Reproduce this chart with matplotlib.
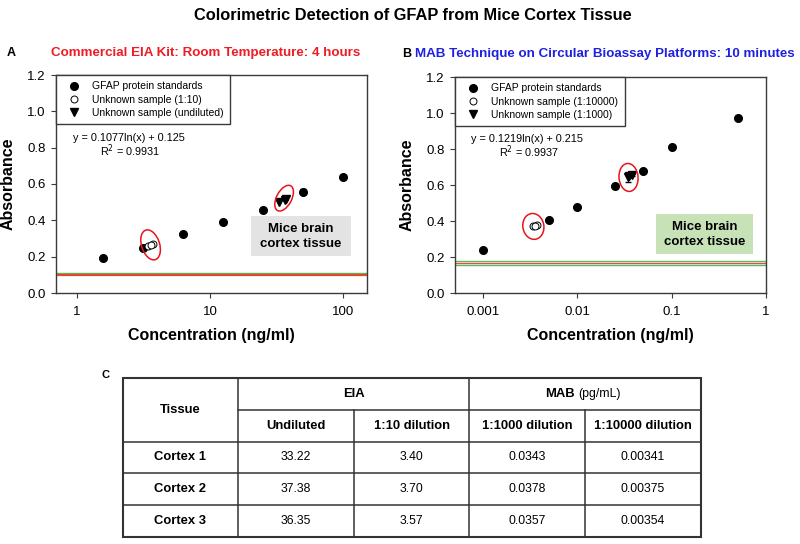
import matplotlib
matplotlib.use("Agg")
import matplotlib.pyplot as plt
import matplotlib.transforms as mtransforms
from matplotlib.patches import Ellipse, Rectangle
from matplotlib.lines import Line2D
from matplotlib.ticker import FixedLocator, FixedFormatter, NullLocator

plt.rcParams['font.family'] = ['Liberation Sans', 'DejaVu Sans']

# ---------------- data ----------------
# Panel A: commercial EIA kit
std_conc_a = [1.5625, 3.125, 6.25, 12.5, 25, 50, 100]
std_abs_a = [0.195, 0.250, 0.323, 0.389, 0.458, 0.557, 0.640]
std_err_a = [0.004, 0.006, 0.005, 0.006, 0.006, 0.013, 0.006]
unk10_abs_a = [0.260, 0.268, 0.265]          # 1:10 samples
undil_abs_a = [0.503, 0.516, 0.512]          # undiluted samples
blank_a_green = 0.108
blank_a_red = 0.101

# Panel B: MAB technique
std_conc_b = [0.001, 0.005, 0.01, 0.025, 0.05, 0.1, 0.5]
std_abs_b = [0.240, 0.406, 0.479, 0.597, 0.680, 0.813, 0.975]
unk10000_abs_b = [0.371, 0.376, 0.373]       # 1:10000 samples
unk1000_abs_b = [0.642, 0.656, 0.652]        # 1:1000 samples
unk1000_err_b = [0.024, 0.004, 0.004]
blank_b_lines = [0.178, 0.167, 0.156]
blank_b_colors = ['#5cb85c', '#e0504a', '#5cb85c']

# Table C
tissues = ['Cortex 1', 'Cortex 2', 'Cortex 3']
eia_undiluted = [33.22, 37.38, 36.35]
eia_dil10 = [3.40, 3.70, 3.57]
mab_dil1000 = [0.0343, 0.0378, 0.0357]
mab_dil10000 = [0.00341, 0.00375, 0.00354]

eq_a = ['y = 0.1077ln(x) + 0.125', 'R$^2$ = 0.9931']
eq_b = ['y = 0.1219ln(x) + 0.215', 'R$^2$ = 0.9937']
legend_a = ['GFAP protein standards', 'Unknown sample (1:10)', 'Unknown sample (undiluted)']
legend_b = ['GFAP protein standards', 'Unknown sample (1:10000)', 'Unknown sample (1:1000)']
xticks_a = [1, 10, 100]
xticklabels_a = ['1', '10', '100']
xticks_b = [0.001, 0.01, 0.1, 1]
xticklabels_b = ['0.001', '0.01', '0.1', '1']
yticks = [0.0, 0.2, 0.4, 0.6, 0.8, 1.0, 1.2]

# ---------------- figure ----------------
W, H = 800, 544
fig = plt.figure(figsize=(W / 100, H / 100), dpi=100)


def px_axes(x0, y0, x1, y1):
    return fig.add_axes([x0 / W, 1 - y1 / H, (x1 - x0) / W, (y1 - y0) / H])


frame_col = '#3a3a3a'
axA = px_axes(56, 75, 367, 293)
axB = px_axes(455, 77, 766, 293)

for ax in (axA, axB):
    ax.set_xscale('log')
    ax.set_ylim(0, 1.2)
    ax.yaxis.set_major_locator(FixedLocator(yticks))
    ax.set_yticklabels(['%.1f' % v for v in yticks])
    ax.tick_params(axis='both', which='major', direction='out', length=3.5,
                   width=0.8, color=frame_col, labelsize=9.5, pad=4)
    ax.tick_params(axis='x', pad=6)
    for s in ax.spines.values():
        s.set_color(frame_col)
        s.set_linewidth(1.0)
    ax.set_ylabel('Absorbance', fontsize=11.5, fontweight='bold', labelpad=8)
    ax.set_xlabel('Concentration (ng/ml)', fontsize=11.5, fontweight='bold', labelpad=7)

axA.set_xlim(0.695, 151)
axA.xaxis.set_major_locator(FixedLocator(xticks_a))
axA.xaxis.set_major_formatter(FixedFormatter(xticklabels_a))
axB.set_xlim(0.000508, 1.0)
axB.xaxis.set_major_locator(FixedLocator(xticks_b))
axB.xaxis.set_major_formatter(FixedFormatter(xticklabels_b))
axB.xaxis.set_minor_locator(NullLocator())
axA.xaxis.set_minor_locator(NullLocator())

ms = 5.5
# Panel A marks
axA.axhline(blank_a_green, color='#5cb85c', lw=1.0, zorder=1)
axA.axhline(blank_a_red, color='#e2492c', lw=1.6, zorder=1)
axA.errorbar(std_conc_a, std_abs_a, yerr=std_err_a, fmt='o', color='black',
             ms=ms, capsize=2, elinewidth=0.7, zorder=3)
axA.errorbar(eia_dil10, unk10_abs_a, yerr=[0.004] * 3, fmt='o', mfc='white', mec='black',
             mew=0.7, ecolor='black', ms=ms - 0.5, capsize=1.5, elinewidth=0.6, zorder=4)
axA.errorbar(eia_undiluted, undil_abs_a, yerr=[0.004] * 3, fmt='v', color='black',
             ms=ms + 0.5, capsize=1.5, elinewidth=0.6, zorder=4)

# Panel B marks
for yv, c in zip(blank_b_lines, blank_b_colors):
    axB.axhline(yv, color=c, lw=1.0, zorder=1)
axB.errorbar(std_conc_b, std_abs_b, yerr=[0.004] * len(std_conc_b), fmt='o', color='black',
             ms=ms, capsize=2, elinewidth=0.7, zorder=3)
axB.errorbar(mab_dil10000, unk10000_abs_b, yerr=[0.004] * 3, fmt='o', mfc='white', mec='black',
             mew=0.7, ecolor='black', ms=ms - 0.5, capsize=1.5, elinewidth=0.6, zorder=4)
axB.errorbar(mab_dil1000, unk1000_abs_b, yerr=unk1000_err_b, fmt='v', color='black',
             ms=ms + 0.5, capsize=2.5, elinewidth=0.7, zorder=4)


def handles():
    return [Line2D([], [], ls='none', marker='o', color='black', ms=ms),
            Line2D([], [], ls='none', marker='o', mfc='white', mec='black', mew=0.7, ms=ms - 0.5),
            Line2D([], [], ls='none', marker='v', color='black', ms=ms + 0.5)]


for ax, labels in ((axA, legend_a), (axB, legend_b)):
    leg = ax.legend(handles(), labels, loc='upper left', bbox_to_anchor=(0, 1), borderaxespad=0,
                    fancybox=False, edgecolor=frame_col, framealpha=1, fontsize=7.5,
                    handlelength=2.2, handletextpad=0.7, labelspacing=0.32,
                    borderpad=0.6, numpoints=1)
    leg.get_frame().set_linewidth(1.0)


def fig_text(x, y, s, **kw):
    return fig.text(x / W, 1 - y / H, s, **kw)


fig_text(73, 138, eq_a[0], fontsize=7.8, va='center', ha='left')
fig_text(100, 151, eq_a[1], fontsize=7.8, va='center', ha='left')
fig_text(471, 139, eq_b[0], fontsize=7.8, va='center', ha='left')
fig_text(499, 152, eq_b[1], fontsize=7.8, va='center', ha='left')


# ellipses around unknown groups (size in pixels, centred on data points)
def ring(ax, xc, yc, w, h, ang):
    tr = mtransforms.Affine2D() + mtransforms.ScaledTranslation(xc, yc, ax.transData)
    e = Ellipse((0, 0), w, h, angle=ang, fill=False, ec='#e8141b', lw=1.1,
                transform=tr, zorder=5, clip_on=False)
    ax.add_patch(e)


ring(axA, eia_dil10[2], unk10_abs_a[2], 18, 31, 18)
ring(axA, eia_undiluted[2] * 0.99, undil_abs_a[2] + 0.01, 15, 28, -28)
ring(axB, mab_dil10000[2] * 0.97, unk10000_abs_b[2] - 0.003, 21, 26, 10)
ring(axB, mab_dil1000[2] * 0.98, unk1000_abs_b[2] - 0.01, 19, 28, 5)

# overlay in pixel coordinates
overlay = fig.add_axes([0, 0, 1, 1], facecolor='none')
overlay.set_xlim(0, W)
overlay.set_ylim(H, 0)
overlay.axis('off')
overlay.add_patch(Rectangle((251, 216), 100, 40, fc='#e3e3e3', ec='none', zorder=2))
overlay.add_patch(Rectangle((656, 214), 97, 40, fc='#c8e2b8', ec='none', zorder=2))
overlay.text(301, 229, 'Mice brain', fontsize=9.5, fontweight='bold', ha='center', va='center', zorder=3)
overlay.text(301, 244, 'cortex tissue', fontsize=9.5, fontweight='bold', ha='center', va='center', zorder=3)
overlay.text(704.5, 227, 'Mice brain', fontsize=9.5, fontweight='bold', ha='center', va='center', zorder=3)
overlay.text(704.5, 242, 'cortex tissue', fontsize=9.5, fontweight='bold', ha='center', va='center', zorder=3)

# titles
overlay.text(413, 16, 'Colorimetric Detection of GFAP from Mice Cortex Tissue', fontsize=11.8,
             fontweight='bold', ha='center', va='center')
overlay.text(7, 53, 'A', fontsize=9, fontweight='bold', ha='left', va='center')
overlay.text(206, 53, 'Commercial EIA Kit: Room Temperature: 4 hours', fontsize=9.6,
             fontweight='bold', color='#ee1c24', ha='center', va='center')
overlay.text(402, 54, 'B', fontsize=9, fontweight='bold', ha='left', va='center')
overlay.text(605, 54, 'MAB Technique on Circular Bioassay Platforms: 10 minutes', fontsize=9.6,
             fontweight='bold', color='#2020e0', ha='center', va='center')
overlay.text(101, 375, 'C', fontsize=8, fontweight='bold', ha='left', va='center')

# ---------------- table ----------------
tl, tr_, tt, tb = 123, 701, 378, 537
cols = [123, 238, 354, 469, 585, 701]
rows = [378, 410, 442, 473, 505, 537]
lc = '#333333'
overlay.add_patch(Rectangle((tl, tt), tr_ - tl, tb - tt, fill=False, ec=lc, lw=1.5, zorder=4))
overlay.plot([cols[1], tr_], [rows[1], rows[1]], color=lc, lw=1.1)
for r in rows[2:-1]:
    overlay.plot([tl, tr_], [r, r], color=lc, lw=1.1)
overlay.plot([cols[1], cols[1]], [tt, tb], color=lc, lw=1.1)
overlay.plot([cols[3], cols[3]], [tt, tb], color=lc, lw=1.1)
overlay.plot([cols[2], cols[2]], [rows[1], tb], color=lc, lw=1.1)
overlay.plot([cols[4], cols[4]], [rows[1], tb], color=lc, lw=1.1)

hfs = 9.4
vfs = 8.8
overlay.text((cols[0] + cols[1]) / 2, (rows[0] + rows[2]) / 2, 'Tissue', fontsize=hfs,
             fontweight='bold', ha='center', va='center')
overlay.text((cols[1] + cols[3]) / 2, (rows[0] + rows[1]) / 2, 'EIA', fontsize=hfs,
             fontweight='bold', ha='center', va='center')
overlay.text(575, (rows[0] + rows[1]) / 2, 'MAB', fontsize=hfs, fontweight='bold',
             ha='right', va='center')
overlay.text(578, (rows[0] + rows[1]) / 2, '(pg/mL)', fontsize=vfs, ha='left', va='center')
subheads = ['Undiluted', '1:10 dilution', '1:1000 dilution', '1:10000 dilution']
for i, s in enumerate(subheads):
    overlay.text((cols[i + 1] + cols[i + 2]) / 2, (rows[1] + rows[2]) / 2, s, fontsize=hfs,
                 fontweight='bold', ha='center', va='center')
for j in range(3):
    yc = (rows[2 + j] + rows[3 + j]) / 2
    overlay.text((cols[0] + cols[1]) / 2, yc, tissues[j], fontsize=hfs, fontweight='bold',
                 ha='center', va='center')
    vals = ['%.2f' % eia_undiluted[j], '%.2f' % eia_dil10[j],
            '%.4f' % mab_dil1000[j], '%.5f' % mab_dil10000[j]]
    for i, v in enumerate(vals):
        overlay.text((cols[i + 1] + cols[i + 2]) / 2, yc, v, fontsize=vfs,
                     ha='center', va='center')

fig.savefig('out.png', dpi=100)
